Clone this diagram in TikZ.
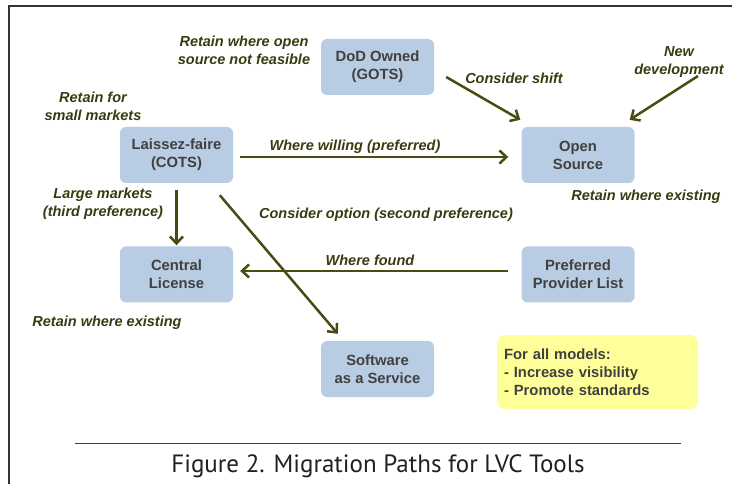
\documentclass[tikz,border=0pt]{standalone}
\usepackage{fontspec}
\setmainfont{Liberation Sans}
\newfontfamily\capfont{PT Sans}
\usetikzlibrary{arrows.meta}

\definecolor{boxblue}{RGB}{184,204,228}
\definecolor{noteyellow}{RGB}{255,255,153}
\definecolor{olive}{RGB}{74,74,18}
\definecolor{labeltext}{RGB}{58,58,16}
\definecolor{boxtext}{RGB}{64,64,64}

\begin{document}
\begin{tikzpicture}[
  x=1pt,y=-1pt,
  font=\fontsize{14.8}{18}\selectfont\bfseries,
  model/.style={draw=none,fill=boxblue,rounded corners=6pt,minimum width=113pt,minimum height=56pt,inner sep=0pt,align=center,text=boxtext},
  note/.style={draw=none,fill=noteyellow,rounded corners=8pt,minimum width=201pt,minimum height=74pt,inner sep=7pt,align=left,text=boxtext},
  lbl/.style={text=labeltext,font=\fontsize{14.5}{18}\selectfont\bfseries\itshape,align=center,inner sep=0pt},
  flow/.style={-{Straight Barb[length=7pt,width=13pt]},line width=2.5pt,draw=olive},
  every node/.style={align=center}]

  \useasboundingbox (0,0) rectangle (732,484);
  \draw[line width=2pt,black!80] (9,484) -- (9,6) -- (732,6);

  % Position the nodes at fixed coordinates
  \node[model] (gots) at (377.5,67) {DoD Owned\\(GOTS)};
  \node[model] (cots) at (176.5,155) {Laissez-faire\\(COTS)};
  \node[model] (oss) at (578,155) {Open\\Source};
  \node[model] (lic) at (176.5,274.5) {Central\\License};
  \node[model] (ppl) at (578,274.5) {Preferred\\Provider List};
  \node[model] (saas) at (377.5,369) {Software\\as a Service};
  \node[note,text width=187pt] (note) at (597.5,372) {For all models:\\- Increase visibility\\- Promote standards};
  \coordinate (newdev) at (698,76);

  % Draw the arrows between the nodes
  \draw[flow] ([xshift=7pt,yshift=-2pt]cots.east) -- ([xshift=-13pt,yshift=-2pt]oss.west);
  \draw[flow] ([xshift=12pt,yshift=-10pt]gots.east) -- ([xshift=-1pt,yshift=7pt]oss.north west);
  \draw[flow] (newdev) -- ([xshift=-5pt,yshift=7pt]oss.north east);
  \draw[flow] ([yshift=-7pt]cots.south) -- ([yshift=1pt]lic.north);
  \draw[flow] ([xshift=100pt,yshift=-12pt]cots.south west) -- ([xshift=17pt,yshift=7pt]saas.north west);
  \draw[flow] ([xshift=-13pt,yshift=3.5pt]ppl.west) -- ([xshift=7pt,yshift=3.5pt]lic.east);

  % Labels
  \node[lbl] (l1) at (244,50) {Retain where open\\source not feasible};
  \node[lbl] (l2) at (93,106) {Retain for\\small markets};
  \node[lbl] (l3) at (103,204) {Large markets\\(third preference)};
  \node[lbl] (l4) at (355,147) {Where willing (preferred)};
  \node[lbl] (l5) at (514,78) {Consider shift};
  \node[lbl] (l6) at (679,62) {New\\development};
  \node[lbl] (l7) at (646,197) {Retain where existing};
  \node[lbl] (l8) at (386,215) {Consider option (second preference)};
  \node[lbl] (l9) at (370,260) {Where found};
  \node[lbl] (l10) at (107,323) {Retain where existing};

  % Caption
  \draw[line width=1pt,black!75] (75,443) -- (681,443);
  \node[font=\capfont\fontsize{25}{29}\selectfont,text={rgb,255:red,35;green,31;blue,32}] (cap) at (378,466) {Figure 2. Migration Paths for LVC Tools};

\end{tikzpicture}
\end{document}
